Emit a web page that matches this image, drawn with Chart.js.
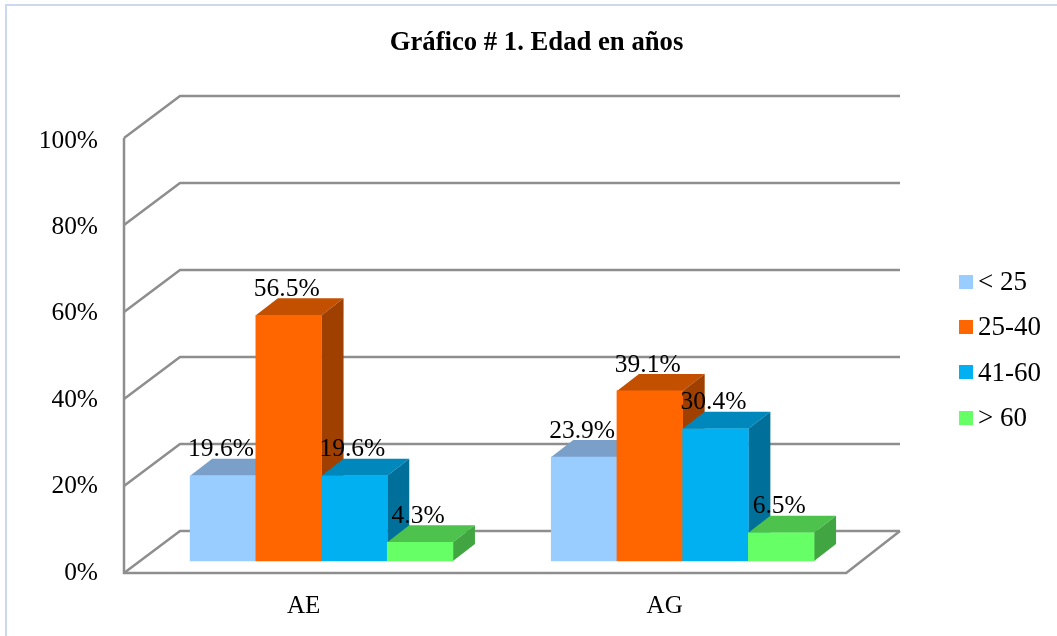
<!DOCTYPE html>
<html lang="es">
<head>
<meta charset="utf-8">
<style>html,body{margin:0;padding:0;background:#fff}canvas{display:block}</style>
<script src="https://cdn.jsdelivr.net/npm/chart.js@4/dist/chart.umd.min.js"></script>
</head>
<body>
<canvas id="c" width="1057" height="636"></canvas>
<script>
const titleText = 'Gráfico # 1. Edad en años';
const categories = ['AE', 'AG'];
const seriesNames = ['< 25', '25-40', '41-60', '> 60'];
const under25 = [19.6, 23.9];
const from25to40 = [56.5, 39.1];
const from41to60 = [19.6, 30.4];
const over60 = [4.3, 6.5];
const frontColors = ['#99CCFF', '#FF6600', '#00B0F0', '#66FF66'];
const topColors = ['#7A9FC8', '#C25000', '#0088BC', '#4DC24D'];
const sideColors = ['#6A8CB0', '#A04000', '#00709A', '#41A541'];
const seriesValues = [under25, from25to40, from41to60, over60];

const FONT = '"Liberation Serif","Times New Roman",serif';
const WALL = {dx: 56, dy: -42, right: 900};
const BAR = {dx: 22, dy: -17, shiftX: 17, shiftY: -12};
const GRID = '#8E8E8E';
const FRAME = '#CBD8EE';
const SWATCH = {x: 959, size: 14, ys: [275, 320, 365, 411]};
const LEGEND_PAD = 18.3;

const threeD = {
  id: 'threeD',
  afterLayout(chart) {
    const lg = chart.legend, t = chart.titleBlock;
    const dx = 978 - 13.5 - LEGEND_PAD - lg.left;
    lg.left += dx; lg.right += dx;
    const dy = 33;
    lg.top += dy; lg.bottom += dy;
    t.left = 0; t.right = 1073;
    const yScale = chart.scales.y;
    yScale.getLabelItems(chart.chartArea).forEach(it => {
      it.options.translation[1] += 3 * parseFloat(it.label) / 100;
    });
    chart.scales.x.getLabelItems(chart.chartArea).forEach(it => {
      it.options.translation[0] -= 1;
    });
  },
  beforeDraw(chart) {
    const c = chart.ctx;
    c.save();
    c.strokeStyle = FRAME; c.lineWidth = 2;
    c.beginPath();
    c.moveTo(6, 636); c.lineTo(6, 5); c.lineTo(1057, 5);
    c.stroke();
    c.restore();
  },
  beforeDatasetsDraw(chart) {
    const c = chart.ctx, y = chart.scales.y, a = chart.chartArea;
    c.save();
    c.strokeStyle = GRID; c.lineWidth = 2.5; c.lineJoin = 'miter';
    y.ticks.forEach(t => {
      const py = y.getPixelForValue(t.value);
      c.beginPath();
      c.moveTo(a.left, py);
      c.lineTo(a.left + WALL.dx, py + WALL.dy);
      c.lineTo(WALL.right, py + WALL.dy);
      c.stroke();
    });
    c.beginPath();
    c.moveTo(a.left, a.top); c.lineTo(a.left, a.bottom); c.lineTo(a.right, a.bottom);
    c.lineTo(WALL.right, a.bottom + WALL.dy);
    c.stroke();
    c.restore();

    c.save();
    c.translate(BAR.shiftX, BAR.shiftY);
    chart.data.datasets.forEach((ds, i) => {
      const meta = chart.getDatasetMeta(i);
      meta.data.forEach(b => {
        const p = b.getProps(['x', 'y', 'base', 'width'], true);
        const l = p.x - p.width / 2, r = p.x + p.width / 2;
        c.fillStyle = topColors[i];
        c.beginPath();
        c.moveTo(l, p.y); c.lineTo(l + BAR.dx, p.y + BAR.dy);
        c.lineTo(r + BAR.dx, p.y + BAR.dy); c.lineTo(r, p.y);
        c.closePath(); c.fill();
        c.fillStyle = sideColors[i];
        c.beginPath();
        c.moveTo(r, p.y); c.lineTo(r + BAR.dx, p.y + BAR.dy);
        c.lineTo(r + BAR.dx, p.base + BAR.dy); c.lineTo(r, p.base);
        c.closePath(); c.fill();
      });
      meta.controller.draw();
    });
    c.fillStyle = '#000';
    c.font = '25.5px ' + FONT;
    c.textAlign = 'center';
    c.textBaseline = 'middle';
    chart.data.datasets.forEach((ds, i) => {
      chart.getDatasetMeta(i).data.forEach((b, j) => {
        const p = b.getProps(['x', 'y'], true);
        c.fillText(ds.data[j].toFixed(1) + '%', p.x - 2, p.y - 26);
      });
    });
    c.restore();
    return false;
  },
  afterDraw(chart) {
    const c = chart.ctx;
    c.save();
    SWATCH.ys.forEach((sy, i) => {
      c.fillStyle = frontColors[i];
      c.fillRect(SWATCH.x, sy, SWATCH.size, SWATCH.size);
    });
    c.restore();
  }
};

new Chart(document.getElementById('c'), {
  type: 'bar',
  data: {
    labels: categories,
    datasets: seriesNames.map((name, i) => ({
      label: name,
      data: seriesValues[i],
      backgroundColor: frontColors[i],
      borderWidth: 0
    }))
  },
  plugins: [threeD],
  options: {
    responsive: false,
    animation: false,
    layout: {autoPadding: false, padding: {right: 106}},
    datasets: {bar: {barThickness: 65.7}},
    scales: {
      x: {
        grid: {display: false, drawTicks: false},
        border: {display: false},
        afterFit: s => { s.height = 63; },
        ticks: {color: '#000', font: {family: FONT, size: 25}, padding: 18, maxRotation: 0}
      },
      y: {
        min: 0, max: 100,
        afterFit: s => { s.width = 124; },
        grid: {display: false, drawTicks: false},
        border: {display: false},
        ticks: {stepSize: 20, color: '#000', font: {family: FONT, size: 25.4}, padding: 26, callback: v => v + '%'}
      }
    },
    plugins: {
      tooltip: {enabled: false},
      title: {
        display: true,
        text: titleText,
        color: '#000',
        font: {family: FONT, size: 26.7, weight: 'bold'},
        padding: {top: 27, bottom: 79}
      },
      legend: {
        display: true,
        position: 'right',
        labels: {boxWidth: 0, boxHeight: 27, padding: LEGEND_PAD, color: '#000', font: {family: FONT, size: 27}}
      }
    }
  }
});
</script>
</body>
</html>
